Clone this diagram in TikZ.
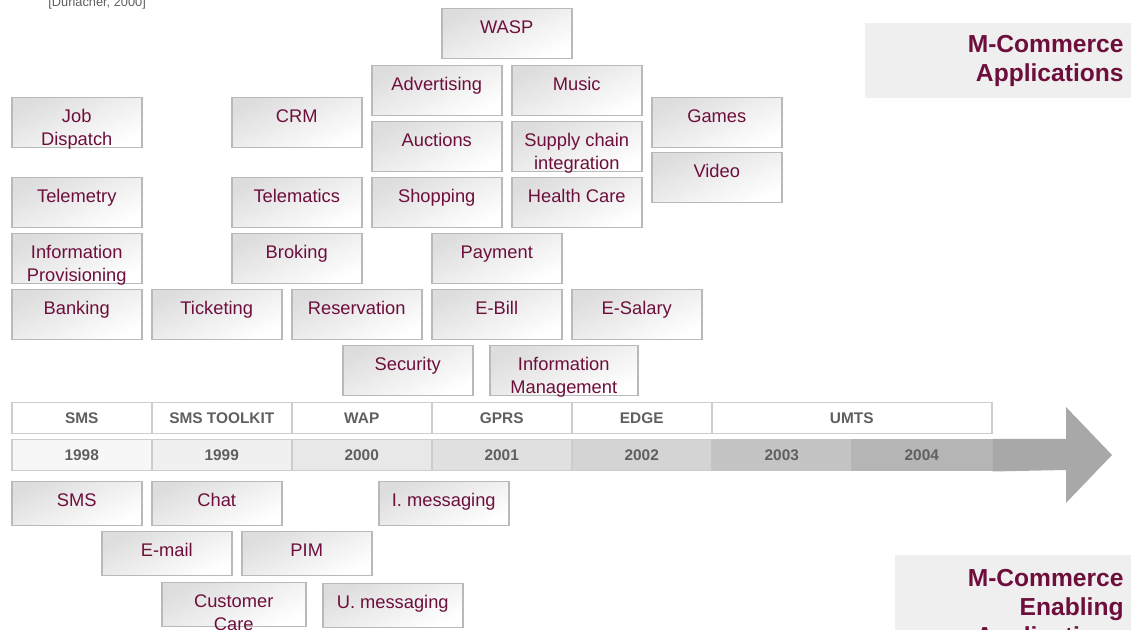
\documentclass[tikz,border=0pt]{standalone}
\usepackage{fontspec}
\setmainfont{Liberation Sans}
\usepackage{tikz}

\definecolor{wine}{RGB}{110,14,60}
\definecolor{boxline}{RGB}{185,185,185}
\definecolor{boxshade}{RGB}{221,221,221}
\definecolor{cellline}{RGB}{205,205,205}
\definecolor{celltext}{RGB}{95,95,95}
\definecolor{titlebg}{RGB}{239,239,239}

% text of one box, written from the top down
\newcommand{\apptxt}[2][65pt]{\parbox[t][25pt][t]{#1}{\centering\vspace*{4.6pt}\strut#2}}
\newcommand{\enatxt}[2][65pt]{\parbox[t][22pt][t]{#1}{\centering\vspace*{4.6pt}\strut#2}}

\tikzset{
  appbox/.style={draw=boxline, line width=0.75pt, top color=boxshade, bottom color=white,
    shading angle=25, inner sep=0pt, anchor=north west, text=wine,
    font=\fontsize{9.15pt}{11.3pt}\selectfont},
  tlcell/.style={draw=cellline, line width=0.75pt, inner sep=0pt, anchor=north west,
    minimum width=70pt, minimum height=15.5pt, text=celltext,
    font=\fontsize{7.7pt}{9pt}\selectfont\bfseries},
  titletext/.style={inner sep=0pt, anchor=north east, align=right, text=wine,
    font=\fontsize{12.3pt}{14.5pt}\selectfont\bfseries}
}

\begin{document}
\begin{tikzpicture}[x=0.5pt, y=-0.5pt]
  \useasboundingbox (0,0) rectangle (1131,630);

  \node[anchor=base west, inner sep=0pt, text=celltext, font=\fontsize{6.4pt}{7pt}\selectfont] (source) at (48,6.5) {[Durlacher, 2000]};

  % title boxes
  \fill[titlebg] (865,23) rectangle (1131,98); % Draws a rectangle
  \node[titletext] (apptitle) at (1124,35) {M-Commerce\\Applications};
  \fill[titlebg] (895,555) rectangle (1131,660); % Draws a rectangle
  \node[titletext] (enatitle) at (1124,569) {M-Commerce\\Enabling\\Applications};

  % applications
  \node[appbox] (wasp) at (441,8) {\apptxt{WASP}};
  \node[appbox] (advert) at (371,65) {\apptxt{Advertising}};
  \node[appbox] (music) at (511,65) {\apptxt{Music}};
  \node[appbox] (jobdisp) at (11,97) {\apptxt{Job\\Dispatch}};
  \node[appbox] (crm) at (231,97) {\apptxt{CRM}};
  \node[appbox] (games) at (651,97) {\apptxt{Games}};
  \node[appbox] (auctions) at (371,121) {\apptxt{Auctions}};
  \node[appbox] (supply) at (511,121) {\apptxt{Supply chain\\integration}};
  \node[appbox] (video) at (651,152) {\apptxt{Video}};

  \node[appbox] (telemetry) at (11,177) {\apptxt{Telemetry}};
  \node[appbox] (telematics) at (231,177) {\apptxt{Telematics}};
  \node[appbox] (shopping) at (371,177) {\apptxt{Shopping}};
  \node[appbox] (health) at (511,177) {\apptxt{Health Care}};

  \node[appbox] (infoprov) at (11,233) {\apptxt{Information\\Provisioning}};
  \node[appbox] (broking) at (231,233) {\apptxt{Broking}};
  \node[appbox] (payment) at (431,233) {\apptxt{Payment}};

  \node[appbox] (banking) at (11,289) {\apptxt{Banking}};
  \node[appbox] (ticketing) at (151,289) {\apptxt{Ticketing}};
  \node[appbox] (reserv) at (291,289) {\apptxt{Reservation}};
  \node[appbox] (ebill) at (431,289) {\apptxt{E-Bill}};
  \node[appbox] (esalary) at (571,289) {\apptxt{E-Salary}};

  \node[appbox] (security) at (342,345) {\apptxt{Security}};
  \node[appbox] (infomgmt) at (489,345) {\apptxt[74pt]{Information\\Management}};

  % time line
  \node[tlcell] (tsms) at (11,402) {SMS};
  \node[tlcell] (ttool) at (151,402) {SMS TOOLKIT};
  \node[tlcell] (twap) at (291,402) {WAP};
  \node[tlcell] (tgprs) at (431,402) {GPRS};
  \node[tlcell] (tedge) at (571,402) {EDGE};
  \node[tlcell, minimum width=140pt] (tumts) at (711,402) {UMTS};

  \node[tlcell, fill=black!3] (y1998) at (11,439) {1998};
  \node[tlcell, fill=black!6] (y1999) at (151,439) {1999};
  \node[tlcell, fill=black!9] (y2000) at (291,439) {2000};
  \node[tlcell, fill=black!12] (y2001) at (431,439) {2001};
  \node[tlcell, fill=black!17] (y2002) at (571,439) {2002};
  \node[tlcell, fill=black!23, draw=black!23] (y2003) at (711,439) {2003};
  \node[tlcell, fill=black!29, draw=black!29] (y2004) at (851,439) {2004};
  \fill[black!34] (y2004.north east) -- (1066,439) -- (1066,407) -- (1112,455)
    -- (1066,503) -- (1066,470) -- (y2004.south east) -- cycle;

  % enabling applications
  \node[appbox] (esms) at (11,481) {\enatxt{SMS}};
  \node[appbox] (chat) at (151,481) {\enatxt{Chat}};
  \node[appbox] (imsg) at (378,481) {\enatxt{I. messaging}};
  \node[appbox] (email) at (101,531) {\enatxt{E-mail}};
  \node[appbox] (pim) at (241,531) {\enatxt{PIM}};
  \node[appbox] (custcare) at (161,582) {\enatxt[72pt]{Customer\\Care}};
  \node[appbox] (umsg) at (322,583) {\enatxt[70pt]{U. messaging}};
\end{tikzpicture}
\end{document}
